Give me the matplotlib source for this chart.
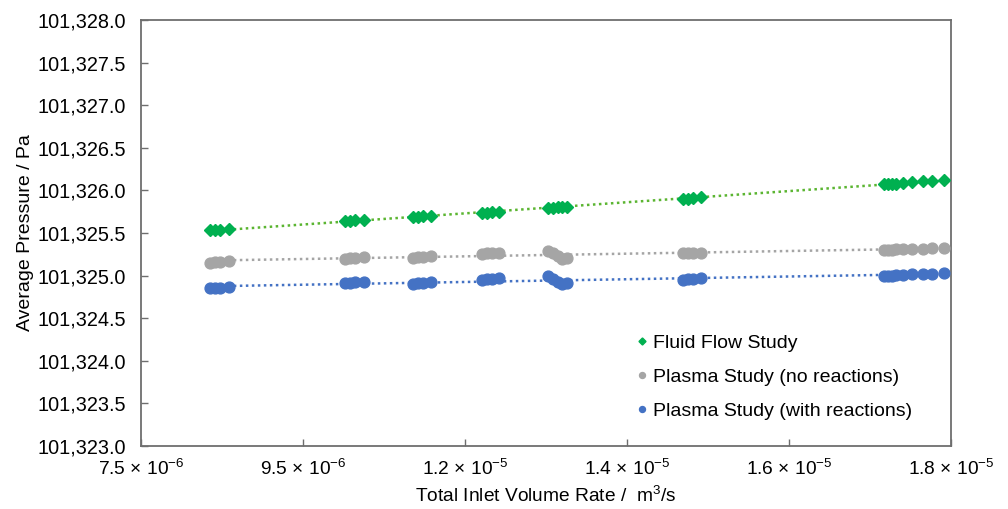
import matplotlib.pyplot as plt
import numpy as np

plt.rcParams['font.family'] = 'Liberation Sans'
plt.rcParams['mathtext.fontset'] = 'custom'
plt.rcParams['mathtext.rm'] = 'Liberation Sans'
plt.rcParams['mathtext.it'] = 'Liberation Sans:italic'

# inlet volume rate, in units of 1e-6 m3/s
flow_rate = np.array([
    8.35, 8.41, 8.47, 8.59,
    10.02, 10.08, 10.14, 10.25,
    10.86, 10.92, 10.98, 11.08,
    11.71, 11.77, 11.83, 11.92,
    12.52, 12.59, 12.65, 12.70, 12.76,
    14.19, 14.25, 14.31, 14.41,
    16.67, 16.72, 16.77, 16.82, 16.91, 17.02, 17.15, 17.27, 17.41,
]) * 1e-6

fluid_flow = 101000 + np.array([
    325.53, 325.53, 325.54, 325.55,
    325.64, 325.64, 325.65, 325.65,
    325.69, 325.69, 325.70, 325.70,
    325.74, 325.74, 325.75, 325.75,
    325.79, 325.79, 325.80, 325.80, 325.81,
    325.90, 325.90, 325.91, 325.92,
    326.07, 326.07, 326.08, 326.08, 326.09, 326.10, 326.11, 326.11, 326.12,
])

plasma_no_react = 101000 + np.array([
    325.15, 325.16, 325.16, 325.17,
    325.20, 325.21, 325.21, 325.22,
    325.21, 325.22, 325.22, 325.23,
    325.25, 325.26, 325.26, 325.27,
    325.29, 325.26, 325.23, 325.20, 325.21,
    325.26, 325.26, 325.27, 325.27,
    325.30, 325.30, 325.30, 325.31, 325.31, 325.31, 325.31, 325.32, 325.32,
])

plasma_react = 101000 + np.array([
    324.85, 324.86, 324.86, 324.87,
    324.91, 324.91, 324.92, 324.92,
    324.90, 324.91, 324.91, 324.92,
    324.95, 324.96, 324.96, 324.97,
    325.00, 324.96, 324.92, 324.90, 324.91,
    324.95, 324.96, 324.96, 324.97,
    325.00, 325.00, 325.00, 325.01, 325.01, 325.02, 325.02, 325.02, 325.03,
])

x_ticks = [7.5e-6, 9.5e-6, 11.5e-6, 13.5e-6, 15.5e-6, 17.5e-6]
x_tick_labels = ['7.5 × 10$^{-6}$', '9.5 × 10$^{-6}$', '1.2 × 10$^{-5}$',
                 '1.4 × 10$^{-5}$', '1.6 × 10$^{-5}$', '1.8 × 10$^{-5}$']
y_ticks = np.arange(101323.0, 101328.01, 0.5)

fig = plt.figure(figsize=(10.08, 5.09), dpi=100)
ax = fig.add_axes([141 / 1008, 1 - 446 / 509, 810 / 1008, 426 / 509])

series = [
    (fluid_flow, 'Fluid Flow Study', '#00B050', '#5BB531', 'D', 6.5),
    (plasma_no_react, 'Plasma Study (no reactions)', '#A5A5A5', '#A5A5A5', 'o', 7.8),
    (plasma_react, 'Plasma Study (with reactions)', '#4472C4', '#4472C4', 'o', 7.8),
]

for values, label, color, trend_color, marker, ms in series:
    coef = np.polyfit(flow_rate, values, 1)
    xs = np.array([flow_rate.min(), flow_rate.max()])
    ax.plot(xs, np.polyval(coef, xs), color=trend_color, lw=1.8,
            linestyle=(0, (1, 1.4)), zorder=2)
    ax.plot(flow_rate, values, linestyle='none', marker=marker, ms=ms,
            color=color, mec=color, label=label, zorder=3)

ax.set_xlim(7.5e-6, 17.5e-6)
ax.set_ylim(101323.0, 101328.0)
ax.set_xticks(x_ticks)
ax.set_xticklabels(x_tick_labels)
ax.set_yticks(y_ticks)
ax.set_yticklabels([f'{v:,.1f}' for v in y_ticks])

for s in ax.spines.values():
    s.set_color('#6E6E6E')
    s.set_linewidth(1.3)
ax.tick_params(direction='in', length=5, width=1, color='#6E6E6E')
ax.tick_params(axis='y', labelsize=14.3, pad=11)
ax.tick_params(axis='x', labelsize=13.8, pad=9)

ax.set_xlabel('Total Inlet Volume Rate /  m$^{3}$/s', fontsize=13.8, labelpad=5)
ax.set_ylabel('Average Pressure / Pa', fontsize=14, labelpad=2)

ax.legend(loc='center left', bbox_to_anchor=(626 / 1008, 1 - 377 / 509),
          bbox_transform=fig.transFigure, frameon=False, fontsize=14,
          handlelength=0.6, handletextpad=0.3, labelspacing=0.85,
          markerscale=0.55, borderpad=0)

fig.savefig('out.png', dpi=100)
